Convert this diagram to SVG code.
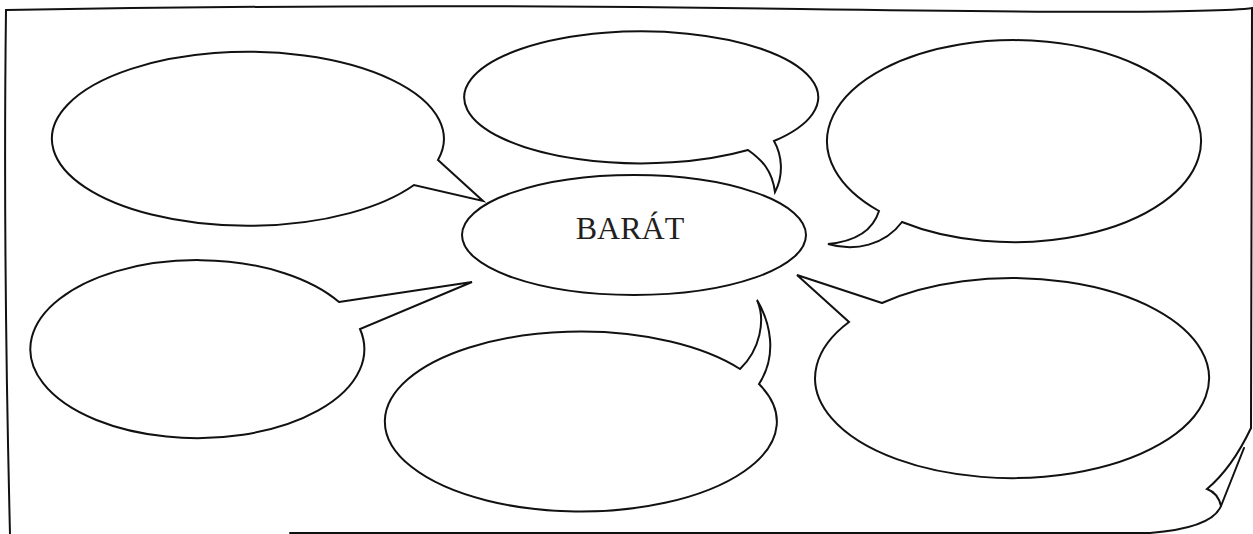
<svg xmlns="http://www.w3.org/2000/svg" width="1253" height="534" viewBox="0 0 1253 534">
<style>
.ln{fill:none;stroke:#111;stroke-width:2;stroke-linejoin:miter;stroke-linecap:round}
.bub{fill:#fff;stroke:#111;stroke-width:2;stroke-linejoin:miter}
.lbl{font-family:"Liberation Serif","DejaVu Serif",serif;font-size:32px;fill:#231f20;text-anchor:middle}
</style>
<rect width="1253" height="534" fill="#fff"/>
<g id="frame">
<path class="ln" d="M6,10 Q400,3 800,9 T1253,8"/>
<path class="ln" d="M6,10 Q3,250 10,534"/>
<path class="ln" d="M1252,8 L1251,428"/>
<path class="ln" d="M1251,428 Q1232,468 1207,489 Q1218,493 1221,506"/>
<path class="ln" d="M1244,448 L1221,506 Q1212,528 1150,533 L290,533"/>
</g>
<g id="connectors"></g>
<g id="bubble-top-left"><path class="bub" d="M438,160 L483,201 L414,185 A196 87 0 1 1 438,160 Z"/></g>
<g id="bubble-top-middle"><path class="bub" d="M748,150 C762,160 772,170 775,192 C784,175 782,155 774,141 A177 66 0 1 0 748,150 Z"/></g>
<g id="bubble-top-right"><path class="bub" d="M879,211 Q870,240 828,244 C855,252 885,245 902,222 A187 101 0 1 0 879,211 Z"/></g>
<g id="bubble-center"><ellipse class="bub" cx="634" cy="235" rx="172" ry="60"/><text class="lbl" x="630" y="239">BARÁT</text></g>
<g id="bubble-mid-left"><path class="bub" d="M339,302 L472,282 L360,329 A167 89 0 1 1 339,302 Z"/></g>
<g id="bubble-bottom-middle"><path class="bub" d="M740,369 C760,350 766,320 757,300 C770,322 778,355 759,384 A196 90 0 1 1 740,369 Z"/></g>
<g id="bubble-bottom-right"><path class="bub" d="M882,303 L797,275 L849,322 A197 100 0 1 0 882,303 Z"/></g>
</svg>
